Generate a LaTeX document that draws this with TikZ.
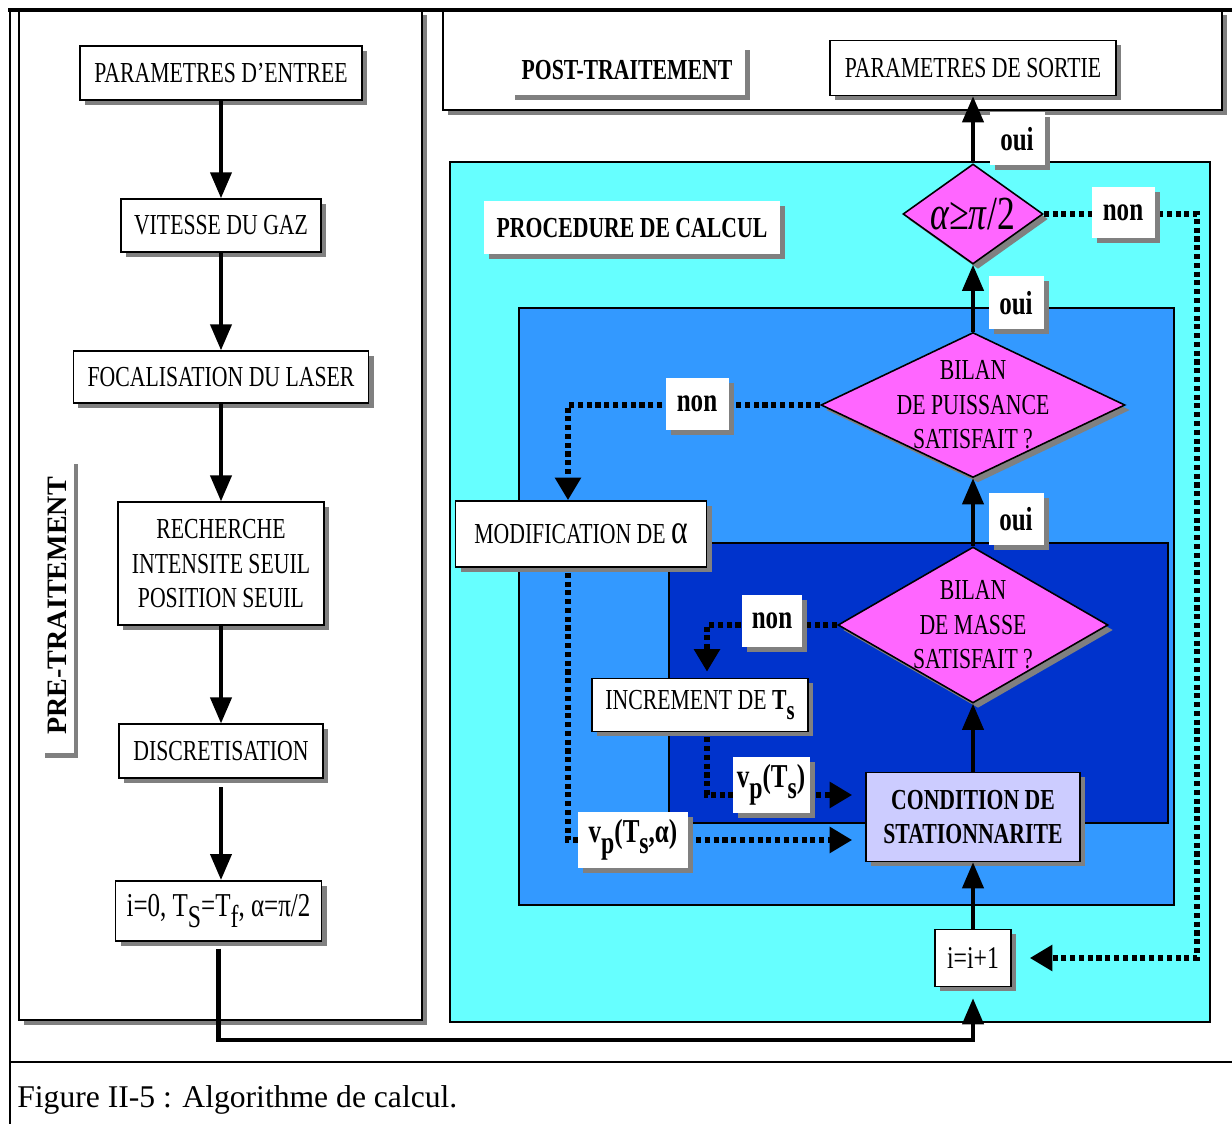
\documentclass[tikz,border=0pt]{standalone}
\usepackage{fontspec}
\setmainfont{Liberation Serif}
\newfontfamily\narrow[FakeStretch=0.75]{Liberation Serif}
\usetikzlibrary{positioning,shapes.geometric,arrows.meta,shadows}
\definecolor{cyanbg}{HTML}{66FFFF}
\definecolor{midblue}{HTML}{3399FF}
\definecolor{deepblue}{HTML}{0033CC}
\definecolor{testpink}{HTML}{FF66FF}
\definecolor{lavender}{HTML}{CCCCFF}
\definecolor{shgray}{HTML}{808080}
\newcommand{\boxfont}{\narrow\fontsize{16.5}{19.6}\selectfont}
\newcommand{\tagfont}{\narrow\bfseries\fontsize{19}{21}\selectfont}
\newcommand{\dn}[1]{\raisebox{-0.7ex}{\scalebox{0.95}{#1}}}

\begin{document}
\begin{tikzpicture}[x=0.02cm, y=-0.02cm, node distance=1.95cm,
  every node/.style={inner sep=0pt, text=black},
  wh/.style 2 args={minimum width=#1*0.02cm, minimum height=#2*0.02cm},
  shadowed/.style={drop shadow={shadow xshift=0.1cm, shadow yshift=-0.1cm, fill=shgray, opacity=1}},
  box/.style={draw, line width=0.9pt, fill=white, shadowed, font=\boxfont, align=center},
  tag/.style={fill=white, shadowed, font=\tagfont},
  test/.style={diamond, draw, line width=0.9pt, fill=testpink, shadowed},
  flow/.style={line width=2.3pt, -{Triangle[length=0.52cm, width=0.42cm]}},
  retour/.style={line width=3.1pt, dash pattern=on 2.9pt off 2.1pt, -{Triangle[length=0.45cm, width=0.5cm]}}]
\useasboundingbox (0,0) rectangle (1232,1124);
% 1. the three stages and the nested loops
\filldraw[line width=0.9pt, fill=white, shadowed] (19,10) rectangle (422,1020);
\filldraw[line width=0.9pt, fill=white, shadowed] (443,10) rectangle (1222,110);
\filldraw[line width=0.7pt, fill=cyanbg] (450,162) rectangle (1210,1022);
\filldraw[line width=0.7pt, fill=midblue] (519,308) rectangle (1174,905);
\filldraw[line width=0.7pt, fill=deepblue] (669,543) rectangle (1168,823);
% table frame round the figure
\draw[line width=1.8pt] (8,10) -- (1232,10);
\draw[line width=1.1pt] (10,10) -- (10,1124);
\draw[line width=1.4pt] (10,1062) -- (1232,1062);
\node[anchor=base west, font=\fontsize{18}{21}\selectfont] (cap) at (17,1108) {Figure II-5 : Algorithme de calcul.};

% 2. stage titles
\node[fill=white, shadowed, wh={33}{294}, font=\bfseries\fontsize{16}{19}\selectfont] (pre) at (57,606) {\rotatebox{90}{PRE-TRAITEMENT}};
\node[fill=white, shadowed, wh={235}{50}, font=\narrow\bfseries\fontsize{16.5}{19}\selectfont] (post) at (627,70) {POST-TRAITEMENT};
\node[fill=white, shadowed, wh={296}{53}, font=\narrow\bfseries\fontsize{16.5}{19}\selectfont] (proc) at (632,228) {PROCEDURE DE CALCUL};

% 3. pre-processing column
\node[box, wh={282}{54}] (pin) at (221,73) {PARAMETRES D’ENTREE};
\node[box, wh={200}{53}, below=of pin] (vit) {VITESSE DU GAZ};
\node[box, wh={295}{52}, below=of vit] (foc) {FOCALISATION DU LASER};
\node[box, wh={206}{123}, below=of foc] (rech) {RECHERCHE\\INTENSITE SEUIL\\POSITION SEUIL};
\node[box, wh={204}{54}, below=of rech] (disc) {DISCRETISATION};
\node[box, wh={206}{60}, below=2.02cm of disc, xshift=-0.05cm, font=\narrow\fontsize{19}{21}\selectfont] (init) {i=0, T\dn{S}=T\dn{f}, α=π/2};

% 4. calculation loops
\node[box, wh={286}{55}] (sortie) at (973,68) {PARAMETRES DE SORTIE};
\node[test, wh={140}{100}, label={[font=\narrow\fontsize{27}{28}\selectfont]center:{\textit{α≥π}/2}}] (alpha) at (973,214) {};
\node[test, wh={304}{145}, label={[font=\boxfont, align=center]center:{BILAN\\DE PUISSANCE\\SATISFAIT ?}}] (puis) at (973,405) {};
\node[test, wh={270}{156}, label={[font=\boxfont, align=center]center:{BILAN\\DE MASSE\\SATISFAIT ?}}] (masse) at (973,625) {};
\node[box, wh={251}{66}] (modif) at (581,534) {MODIFICATION DE {\fontsize{24}{24}\selectfont α}};
\node[box, wh={216}{53}] (incT) at (700,705) {INCREMENT DE \textbf{T\dn{s}}};
\node[box, wh={214}{89}, fill=lavender, font=\boxfont\bfseries] (cond) at (973,817) {CONDITION DE\\STATIONNARITE};
\node[box, wh={76}{57}, font=\narrow\fontsize{18}{20}\selectfont] (inc) at (973,958) {i=i+1};
\coordinate (floor) at (600,1040);
\coordinate (rail) at (1197,214);
\coordinate (alink) at (568,534);
\coordinate (tlink) at (707,705);
\coordinate (lowrow) at (760,840);
\coordinate (midrow) at (760,795);

% 5. connectors
\draw[flow] (pin) -- (vit);
\draw[flow] (vit) -- (foc);
\draw[flow] (foc) -- (rech);
\draw[flow] (rech) -- (disc);
\draw[flow, shorten <=0.16cm] (disc.south) -- (disc.south |- init.north);
\draw[flow, shorten <=0.14cm, shorten >=0.22cm] (init) -- (init |- floor) -| (inc);
\draw[flow] (inc) -- (cond);
\draw[flow] (cond) -- (masse);
\draw[flow] (masse) -- (puis);
\draw[flow] (puis) -- (alpha);
\draw[flow] (alpha) -- (sortie);
\draw[retour, shorten >=0.36cm] (alpha.east) -- (rail) |- (inc.east);
\draw[retour] (puis.west) -| (modif.north -| alink);
\draw[retour, shorten <=0.1cm, shorten >=0.26cm] (modif.south -| alink) |- (cond.west |- lowrow);
\draw[retour, shorten >=0.12cm] (masse.west) -| (incT.north -| tlink);
\draw[retour, shorten <=0.1cm, shorten >=0.26cm] (incT.south -| tlink) |- (cond.west |- midrow);

% 6. answers and exchanged values, over the lines
\node[tag, wh={55}{53}] (oui1) at (1017,139) {oui};
\node[tag, wh={55}{53}] (oui2) at (1016,303) {oui};
\node[tag, wh={55}{52}] (oui3) at (1016,519) {oui};
\node[tag, wh={63}{51}] (non1) at (1123,213) {non};
\node[tag, wh={63}{52}] (non2) at (697,404) {non};
\node[tag, wh={60}{52}] (non3) at (772,621) {non};
\node[tag, wh={77}{56}] (vts) at (771,785) {v\dn{p}(T\dn{s})};
\node[tag, wh={110}{56}] (vtsa) at (633,840) {v\dn{p}(T\dn{s},α)};
\end{tikzpicture}
\end{document}
